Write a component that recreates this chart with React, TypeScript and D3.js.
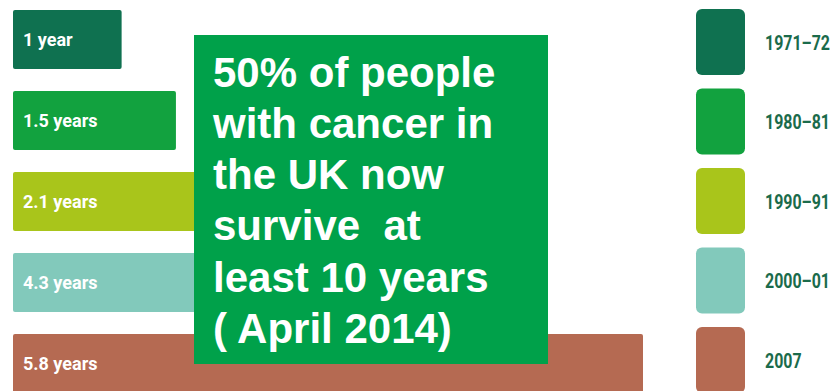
import React from "react";
import * as d3 from "d3";

const periods = ["1971-72", "1980-81", "1990-91", "2000-01", "2007"];
const legendLabels = ["1971–72", "1980–81", "1990–91", "2000–01", "2007"];
const survivalYears = [1, 1.5, 2.1, 4.3, 5.8];
const barLabels = ["1 year", "1.5 years", "2.1 years", "4.3 years", "5.8 years"];
const colors = ["#0f7150", "#12a23f", "#a9c51b", "#82c9bb", "#b56a52"];
const boxLines = [
  "50% of people",
  "with cancer in",
  "the UK now",
  "survive  at",
  "least 10 years",
  "( April 2014)",
];

const W = 834;
const H = 391;

export default function App() {
  const x = d3.scaleLinear().domain([0, 5.8]).range([13, 643]);
  const y = d3
    .scaleBand<string>()
    .domain(periods)
    .range([10, 393])
    .paddingInner(0.27)
    .paddingOuter(0);
  const ly = d3
    .scaleBand<string>()
    .domain(periods)
    .range([9, 393])
    .paddingInner(0.17)
    .paddingOuter(0);

  return (
    <svg
      width={W}
      height={H}
      style={{ position: "absolute", left: 0, top: 0, background: "#fff" }}
    >
      {periods.map((p, i) => (
        <g key={p}>
          <rect
            x={x(0)}
            y={y(p)}
            width={x(survivalYears[i]) - x(0)}
            height={y.bandwidth()}
            fill={colors[i]}
            rx={2}
          />
          <text
            x={x(0) + 10}
            y={(y(p) as number) + y.bandwidth() / 2}
            dy="0.36em"
            fill="#fff"
            fontFamily="Roboto, 'DejaVu Sans', sans-serif"
            fontWeight={700}
            fontSize={18}
          >
            {barLabels[i]}
          </text>
        </g>
      ))}

      {periods.map((p, i) => (
        <g key={"l" + p}>
          <rect
            x={696}
            y={ly(p)}
            width={49}
            height={ly.bandwidth()}
            rx={6}
            fill={colors[i]}
          />
          <g
            transform={`translate(765, ${(ly(p) as number) + ly.bandwidth() / 2}) scale(0.76,1)`}
          >
            <text
              x={0}
              y={0}
              dy="0.36em"
              fill="#1b6b4b"
              fontFamily="Roboto, 'DejaVu Sans', sans-serif"
              fontWeight={700}
              fontSize={21}
            >
              {legendLabels[i]}
            </text>
          </g>
        </g>
      ))}

      <rect x={194} y={35} width={354} height={329} fill="#00a14a" />
      {boxLines.map((line, i) => (
        <text
          key={i}
          x={213}
          y={86.5 + i * 51.3}
          fill="#fff"
          fontFamily="'Liberation Sans', Arial, sans-serif"
          fontWeight={700}
          fontSize={42}
          style={{ whiteSpace: "pre" }}
        >
          {line}
        </text>
      ))}
    </svg>
  );
}
